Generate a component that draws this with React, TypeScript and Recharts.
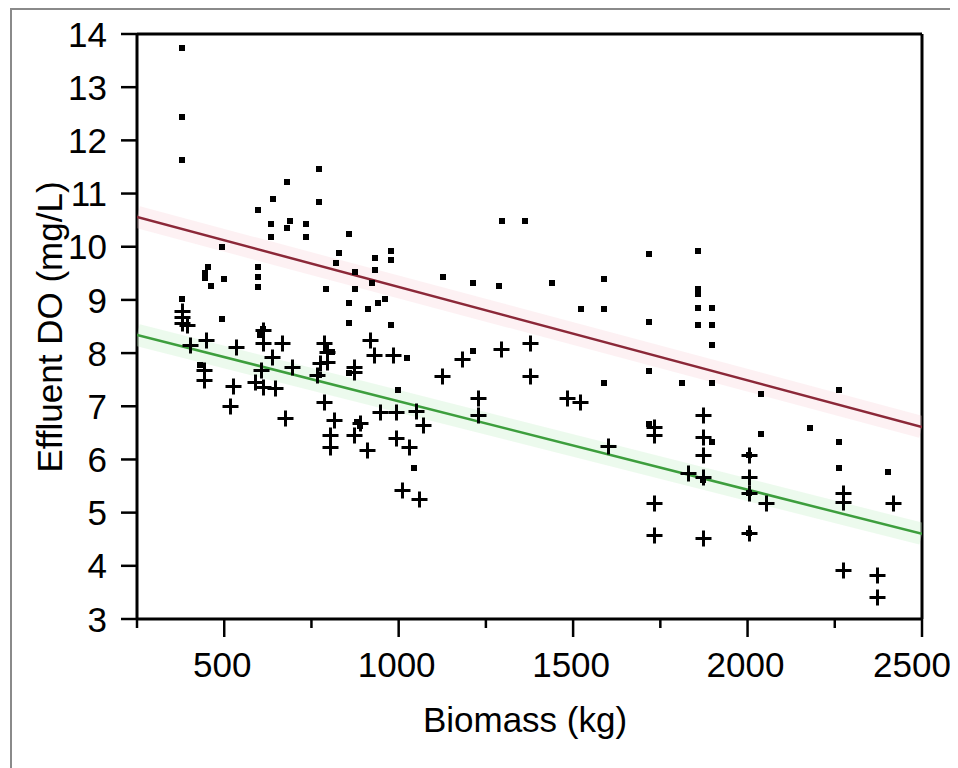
import React from "react";
import { ScatterChart, Scatter, XAxis, YAxis, ReferenceLine } from "recharts";

const xTicks = [250, 500, 750, 1000, 1250, 1500, 1750, 2000, 2250, 2500];
const xLabelTicks = [500, 1000, 1500, 2000, 2500];
const yTicks = [3, 4, 5, 6, 7, 8, 9, 10, 11, 12, 13, 14];

const squareX = [379, 379, 379, 772, 680, 640, 772, 597, 634, 689, 680, 734, 634, 734, 858, 494, 829, 820, 932, 978, 978, 932, 875, 924, 453, 445, 445, 462, 499, 597, 597, 597, 792, 875, 858, 961, 941, 912, 379, 494, 858, 978, 611,
  1296, 1362, 1717, 1127, 1213, 1287, 1439, 1588, 1522, 1588, 1717,
  1858, 1858, 1858, 1858, 1898, 1858, 1898,
  1024, 1213, 1717, 1588, 1717, 1044, 998,
  1898, 1812, 1898, 2038, 2262, 2179, 2038, 1898, 2262, 2262, 2402, 2004, 2004, 2004, 1872,
  430, 809, 858, 772, 880, 890, 603];
const squareY = [13.74, 12.44, 11.63, 11.46, 11.22, 10.9, 10.84, 10.69, 10.43, 10.48, 10.35, 10.43, 10.18, 10.18, 10.24, 9.99, 9.88, 9.69, 9.79, 9.92, 9.75, 9.56, 9.53, 9.32, 9.62, 9.5, 9.41, 9.26, 9.39, 9.62, 9.43, 9.24, 9.2, 9.2, 8.94, 9.01, 8.94, 8.83, 9.01, 8.64, 8.57, 8.53, 8.45,
  10.48, 10.48, 9.86, 9.43, 9.32, 9.26, 9.32, 9.39, 8.83, 8.83, 8.58,
  9.92, 9.2, 9.12, 8.85, 8.85, 8.53, 8.53,
  7.91, 8.04, 7.66, 7.44, 6.67, 5.84, 7.31,
  8.15, 7.44, 7.44, 7.23, 7.31, 6.59, 6.48, 6.33, 6.33, 5.84, 5.76, 6.08, 5.37, 4.62, 5.61,
  7.78, 8.02, 7.63, 7.59, 6.7, 6.62, 8.34];

const plusX = [379, 379, 379, 393, 402, 448, 534, 611, 611, 666, 637, 694, 442, 442, 525, 517, 605, 588, 611, 646, 674, 786, 795, 795, 774, 766, 786, 872, 872, 918, 929, 984, 815, 803, 803, 889, 872, 909, 946, 992, 992, 1010,
  1293, 1376, 1181, 1124, 1376, 1227, 1227, 1482, 1520, 1050, 1070, 1030, 1058, 1600, 1732, 1732, 1732, 1732,
  1872, 1872, 1872, 1829, 1872, 1872, 2004, 2004, 2004, 2004, 2053, 2273, 2273, 2417, 2273, 2371, 2371];
const plusY = [8.8, 8.68, 8.57, 8.53, 8.15, 8.25, 8.12, 8.43, 8.19, 8.19, 7.93, 7.74, 7.68, 7.49, 7.38, 7.0, 7.68, 7.46, 7.37, 7.34, 6.78, 8.19, 8.02, 7.83, 7.81, 7.59, 7.08, 7.74, 7.64, 8.25, 7.96, 7.96, 6.74, 6.46, 6.23, 6.68, 6.46, 6.18, 6.89, 6.89, 6.4, 5.43,
  8.07, 8.19, 7.89, 7.57, 7.57, 7.15, 6.84, 7.15, 7.08, 6.91, 6.65, 6.23, 5.26, 6.25, 6.61, 6.46, 5.18, 4.58,
  6.84, 6.42, 6.08, 5.74, 5.67, 4.52, 6.08, 5.67, 5.37, 4.62, 5.18, 5.37, 5.2, 5.18, 3.92, 3.83, 3.41];

const redLineX = [250, 2500];
const redLineY = [10.56, 6.61];
const greenLineX = [250, 2500];
const greenLineY = [8.34, 4.6];

const squares = squareX.map((x, i) => ({ x, y: squareY[i] }));
const pluses = plusX.map((x, i) => ({ x, y: plusY[i] }));
const redLine = redLineX.map((x, i) => ({ x, y: redLineY[i] }));
const greenLine = greenLineX.map((x, i) => ({ x, y: greenLineY[i] }));

const FONT = "'Liberation Sans', Arial, sans-serif";

const SquareShape = (p: any) => {
  const cx = Math.round(p.cx);
  const cy = Math.round(p.cy);
  return <rect x={cx - 3} y={cy - 3} width={6} height={6} fill="#000" />;
};
const PlusShape = (p: any) => {
  const cx = Math.round(p.cx) + 0.5;
  const cy = Math.round(p.cy) + 0.5;
  return (
    <path d={`M${cx - 8},${cy}H${cx + 8}M${cx},${cy - 8}V${cy + 8}`} stroke="#000" strokeWidth={3} fill="none" />
  );
};
const NoShape = () => null;

const XTick = (p: any) => {
  const v = p.payload.value;
  const major = xLabelTicks.includes(v);
  const x = p.x;
  const y = p.y;
  const dx = v === 2500 ? -10 : -2;
  return (
    <g>
      <line x1={x} y1={y} x2={x} y2={y + (major ? 18 : 9)} stroke="#000" strokeWidth={2.5} />
      {major && (
        <text x={x + dx} y={y + 58} textAnchor="middle" fontSize={35} fontFamily={FONT} fill="#000">
          {v}
        </text>
      )}
    </g>
  );
};

const YTick = (p: any) => {
  const v = p.payload.value;
  const x = p.x;
  const y = p.y;
  return (
    <g>
      <line x1={x - 16} y1={y} x2={x} y2={y} stroke="#000" strokeWidth={2.5} />
      <text x={x - 30} y={y} dy="0.36em" textAnchor="end" fontSize={35} fontFamily={FONT} fill="#000">
        {v}
      </text>
    </g>
  );
};

export default function App() {
  return (
    <div style={{ position: "relative", width: 950, height: 760, background: "#fff" }}>
      <div
        style={{
          position: "absolute",
          left: 2,
          top: 0,
          width: 960,
          height: 770,
          borderTop: "2px solid #8a8a8a",
          borderLeft: "2px solid #8a8a8a",
          boxSizing: "border-box",
        }}
      />
      <div style={{ position: "absolute", left: 0, top: 0 }}>
        <ScatterChart width={950} height={760} margin={{ top: 26, right: 36, bottom: 49, left: 49 }}>
          <XAxis
            type="number"
            dataKey="x"
            domain={[250, 2500]}
            ticks={xTicks}
            interval={0}
            allowDataOverflow
            height={100}
            tickSize={0}
            tickMargin={0}
            axisLine={{ stroke: "#000", strokeWidth: 3 }}
            tickLine={false}
            tick={<XTick />}
          />
          <YAxis
            type="number"
            dataKey="y"
            domain={[3, 14]}
            ticks={yTicks}
            interval={0}
            allowDataOverflow
            width={80}
            tickSize={0}
            tickMargin={0}
            axisLine={{ stroke: "#000", strokeWidth: 3 }}
            tickLine={false}
            tick={<YTick />}
          />
          <ReferenceLine y={14} stroke="#000" strokeWidth={3} />
          <ReferenceLine x={2500} stroke="#000" strokeWidth={3} />
          <Scatter data={redLine} line={{ stroke: "#f7c9d0", strokeWidth: 22, strokeOpacity: 0.25 }} shape={<NoShape />} isAnimationActive={false} />
          <Scatter data={greenLine} line={{ stroke: "#c9f0cc", strokeWidth: 22, strokeOpacity: 0.35 }} shape={<NoShape />} isAnimationActive={false} />
          <Scatter data={redLine} line={{ stroke: "#8b2838", strokeWidth: 2.5 }} shape={<NoShape />} isAnimationActive={false} />
          <Scatter data={greenLine} line={{ stroke: "#3d9e3d", strokeWidth: 2.5 }} shape={<NoShape />} isAnimationActive={false} />
          <Scatter data={squares} shape={<SquareShape />} isAnimationActive={false} />
          <Scatter data={pluses} shape={<PlusShape />} isAnimationActive={false} />
        </ScatterChart>
      </div>
      <svg style={{ position: "absolute", left: 0, top: 0, pointerEvents: "none" }} width={950} height={760}>
        <text x={517} y={724} textAnchor="middle" fontSize={35} fontFamily={FONT} fill="#000">
          Biomass (kg)
        </text>
        <text x={54} y={319} textAnchor="middle" fontSize={35} fontFamily={FONT} fill="#000" transform="rotate(-90 54 319)">
          Effluent DO (mg/L)
        </text>
      </svg>
    </div>
  );
}
